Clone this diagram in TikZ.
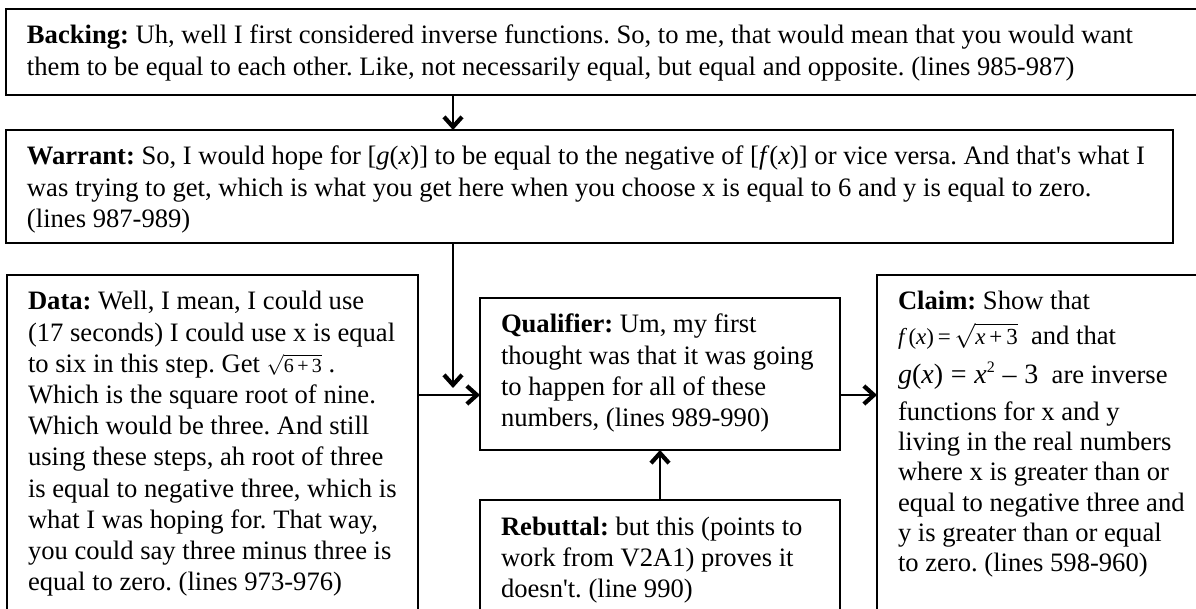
\documentclass[tikz,border=0pt]{standalone}
\usepackage{fontspec}
\setmainfont{Liberation Serif}
\usetikzlibrary{arrows.meta}

% top-aligned paragraph of given width and height; first baseline 35pt below the top
\newcommand\argtext[3]{\parbox[t][#2][t]{#1}{\frenchspacing\raggedright\rule{0pt}{35pt}#3}}
\newcommand\smallmath[2][20]{{\fontsize{#1}{24}\selectfont$#2$}}
\newcommand\vi[1]{\mbox{\itshape #1}}
\newcommand\apos{\textquotesingle}

\tikzset{
  argbox/.style={draw, line width=1.8pt, inner xsep=21pt, inner ysep=0pt,
                 outer sep=0pt, anchor=north west},
  arr/.style={line width=2.2pt, -{Straight Barb[length=10pt,width=18pt,line width=4.2pt]}}
}

\begin{document}
\begin{tikzpicture}[x=1pt, y=1pt, font=\fontsize{26.6}{31.2}\selectfont]
\useasboundingbox (0,0) rectangle (1196,-609);
\clip (0,0) rectangle (1196,-609);

% Toulmin elements
\node[argbox] (backing) at (6,-9) {\argtext{1218pt}{86pt}{%
  \textbf{Backing:} Uh, well I first considered inverse functions. So, to me, that would mean that you would want\\
  them to be equal to each other. Like, not necessarily equal, but equal and opposite. (lines 985-987)}};

\node[argbox] (warrant) at (6,-130) {\argtext{1125pt}{113pt}{%
  \textbf{Warrant:} So, I would hope for [\textit{g}(\textit{x})] to be equal to the negative of [\textit{f}(\textit{x})] or vice versa. And that\apos s what I\\
  was trying to get, which is what you get here when you choose x is equal to 6 and y is equal to zero.\\
  (lines 987-989)}};

\node[argbox] (data) at (7,-275) {\argtext{369pt}{360pt}{%
  \textbf{Data:} Well, I mean, I could use\\
  (17 seconds) I could use x is equal\\
  to six in this step. Get \smallmath{\sqrt{\mbox{6\,+\,3}}} .\\
  Which is the square root of nine.\\
  Which would be three. And still\\
  using these steps, ah root of three\\
  is equal to negative three, which is\\
  what I was hoping for. That way,\\
  you could say three minus three is\\
  equal to zero. (lines 973-976)}};

\node[argbox] (qualifier) at (480,-298) {\argtext{318pt}{152pt}{%
  \textbf{Qualifier:} Um, my first\\
  thought was that it was going\\
  to happen for all of these\\
  numbers, (lines 989-990)}};

\node[argbox] (rebuttal) at (480,-500) {\argtext{318pt}{150pt}{%
  \textbf{Rebuttal:} but this (points to\\
  work from V2A1) proves it\\
  doesn\apos t. (line 990)}};

\node[argbox] (claim) at (877,-275) {\argtext{318pt}{360pt}{%
  \textbf{Claim:} Show that\\[3pt]
  \smallmath[23]{\vi{f}\,\mbox{(}\vi{x}\mbox{)\,=\,}\sqrt{\vi{x}\mbox{\,+\,3}}}\ \ and that\\[8pt]
  {\fontsize{28}{31}\selectfont\vi{g}(\vi{x})\;=\;\vi{x}\raisebox{11pt}{\fontsize{16}{18}\selectfont 2}\;\textendash\;3}\ \ are inverse\\[6pt]
  functions for x and y\\[-1pt]
  living in the real numbers\\[-1pt]
  where x is greater than or\\[-1pt]
  equal to negative three and\\[-1pt]
  y is greater than or equal\\[-1pt]
  to zero. (lines 598-960)}};

% routing points
\coordinate (spine) at (453,0);
\coordinate (warrtip) at (453,-388);
\coordinate (row) at (0,-395);

% connectors
\draw[arr] (backing.south -| spine) -- (warrant.north -| spine);
\draw[arr] (warrant.south -| spine) -- (warrtip);
\draw[arr] (data.east |- row) -- (qualifier.west |- row);
\draw[arr] (qualifier.east |- row) -- (claim.west |- row);
\draw[arr] (rebuttal.north) -- (qualifier.south);
\end{tikzpicture}
\end{document}
